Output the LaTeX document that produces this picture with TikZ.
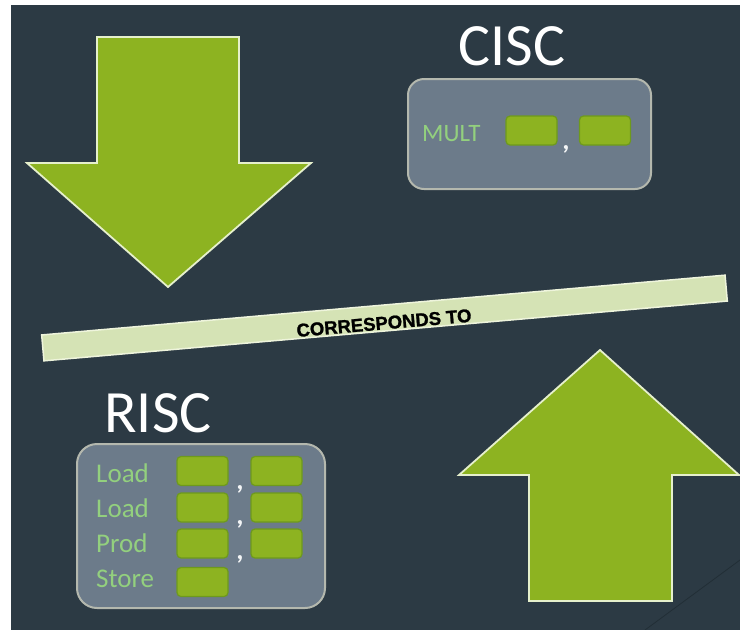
\documentclass[tikz,border=0pt]{standalone}
\usepackage{fontspec}
\setmainfont{Carlito}
\newfontfamily\bandfont[FakeBold=1.2]{Liberation Sans Bold}
\definecolor{slate}{HTML}{2C3A44}
\definecolor{slateline}{HTML}{222E36}
\definecolor{leaf}{HTML}{8DB321}
\definecolor{leafedge}{HTML}{6E9A1C}
\definecolor{rim}{HTML}{E6F0CC}
\definecolor{panel}{HTML}{6C7B8A}
\definecolor{panelrim}{HTML}{B4B8AE}
\definecolor{mint}{HTML}{93D07E}
\definecolor{strip}{HTML}{D5E3B5}
\definecolor{striprim}{HTML}{EEF4DC}
\tikzset{
  bigarrow/.style={fill=leaf, draw=rim, line width=1.8pt, line join=miter},
  instrpanel/.style={fill=panel, draw=panelrim, line width=2pt, inner sep=0pt},
  operand/.style={fill=leaf, draw=leafedge, line width=1.2pt, rounded corners=4pt,
    minimum width=51pt, minimum height=29pt, inner sep=0pt},
  title/.style={text=white, font=\fontsize{60}{60}\selectfont, inner sep=0pt, anchor=base},
  opcode/.style={text=mint, font=\fontsize{27}{27}\selectfont, inner sep=0pt, anchor=base west},
  sep/.style={text=white!92!panel, font=\fontsize{28}{28}\selectfont\bfseries, inner sep=0pt},
}
\begin{document}
\begin{tikzpicture}[x=1pt,y=-1pt]
\useasboundingbox (0,0) rectangle (740,630);
\fill[white] (0,0) rectangle (740,630);
\fill[slate] (11,5) rectangle (740,630);
\draw[slateline, line width=0.8pt] (645,630) -- (740,560);

% downward arrow (top left)
\filldraw[bigarrow] (97,37) -- (239,37) -- (239,163) -- (311,163) -- (168,287)
  -- (27,163) -- (97,163) -- cycle;

% upward arrow (bottom right)
\filldraw[bigarrow] (600,350) -- (739,475) -- (672,475) -- (672,601)
  -- (529,601) -- (529,475) -- (459,475) -- cycle;

% slanted strip
\node[fill=strip, draw=striprim, line width=1.5pt, rotate=5,
  minimum width=686pt, minimum height=26pt, inner sep=0pt] (strip) at (384.5,318) {};
\node[rotate=5, inner sep=0pt, font=\bandfont\fontsize{18.5}{18.5}\selectfont]
  (striptext) at (384,323) {CORRESPONDS TO};

% CISC side
\node[title] (cisc) at (512,65) {CISC};
\node[instrpanel, rounded corners=16pt, minimum width=243pt, minimum height=110pt]
  (ciscpanel) at (529.5,134) {};
\node[opcode, font=\fontsize{25}{25}\selectfont] (mult) at (422,141) {MULT};
\node[operand] (m1) at (531.5,130.5) {};
\node[operand] (m2) at (605,130.5) {};
\node[sep] (mc) at (566,149) {,};

% RISC side
\node[title] (risc) at (158,432) {RISC};
\node[instrpanel, rounded corners=20pt, minimum width=248pt, minimum height=164pt]
  (riscpanel) at (201,526) {};
\node[opcode] (ld1) at (96,482) {Load};
\node[opcode] (ld2) at (96,517) {Load};
\node[opcode] (prod) at (96,552) {Prod};
\node[opcode] (store) at (96,587) {Store};
\node[operand] (a1) at (202.5,471) {};
\node[operand] (b1) at (276.5,471) {};
\node[operand] (a2) at (202.5,507.5) {};
\node[operand] (b2) at (276.5,507.5) {};
\node[operand] (a3) at (202.5,543.5) {};
\node[operand] (b3) at (276.5,543.5) {};
\node[operand] (a4) at (202.5,582) {};
\node[sep] (c1) at (240,489) {,};
\node[sep] (c2) at (240,524) {,};
\node[sep] (c3) at (240,559) {,};
\end{tikzpicture}
\end{document}
